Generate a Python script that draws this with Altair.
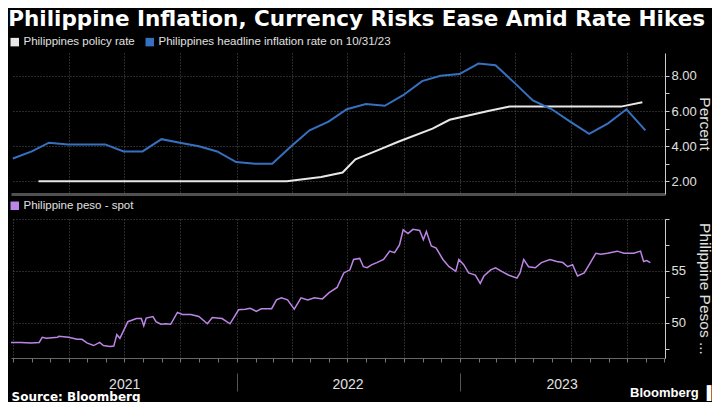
import altair as alt
import pandas as pd

TITLE = "Philippine Inflation, Currency Risks Ease Amid Rate Hikes"
LEG1 = "Philippines policy rate"
LEG2 = "Philippines headline inflation rate on 10/31/23"
LEG3 = "Philippine peso - spot"

# Headline inflation (month-end readings)
infl_dates = ["2020-12-31", "2021-01-31", "2021-02-28", "2021-03-31", "2021-04-30", "2021-05-31",
              "2021-06-30", "2021-07-31", "2021-08-31", "2021-09-30", "2021-10-31", "2021-11-30",
              "2021-12-31", "2022-01-31", "2022-02-28", "2022-03-31", "2022-04-30", "2022-05-31",
              "2022-06-30", "2022-07-31", "2022-08-31", "2022-09-30", "2022-10-31", "2022-11-30",
              "2022-12-31", "2023-01-31", "2023-02-28", "2023-03-31", "2023-04-30", "2023-05-31",
              "2023-06-30", "2023-07-31", "2023-08-31", "2023-09-30", "2023-10-31"]
infl_values = [3.3, 3.7, 4.2, 4.1, 4.1, 4.1, 3.7, 3.7, 4.4, 4.2, 4.0, 3.7,
               3.1, 3.0, 3.0, 4.0, 4.9, 5.4, 6.1, 6.4, 6.3, 6.9, 7.7, 8.0,
               8.1, 8.7, 8.6, 7.6, 6.6, 6.1, 5.4, 4.7, 5.3, 6.1, 4.9]

# Policy rate (decision dates)
rate_dates = ["2021-02-11", "2021-03-25", "2021-05-13", "2021-06-24", "2021-08-12", "2021-09-23",
              "2021-11-18", "2021-12-16", "2022-02-17", "2022-03-24", "2022-05-19", "2022-06-23",
              "2022-07-14", "2022-08-18", "2022-09-22", "2022-11-17", "2022-12-15", "2023-02-16",
              "2023-03-23", "2023-05-18", "2023-06-22", "2023-08-17", "2023-09-21", "2023-10-26"]
rate_values = [2.0, 2.0, 2.0, 2.0, 2.0, 2.0, 2.0, 2.0, 2.0, 2.0, 2.25, 2.5,
               3.25, 3.75, 4.25, 5.0, 5.5, 6.0, 6.25, 6.25, 6.25, 6.25, 6.25, 6.5]

# Peso spot (USD/PHP)
peso_dates = ["2020-12-28", "2021-01-13", "2021-01-30", "2021-02-12", "2021-02-17", "2021-02-24",
              "2021-03-14", "2021-03-16", "2021-04-01", "2021-04-15", "2021-04-23", "2021-05-01",
              "2021-05-12", "2021-05-22", "2021-05-28", "2021-06-08", "2021-06-14", "2021-06-19",
              "2021-06-24", "2021-07-07", "2021-07-21", "2021-07-29", "2021-08-02", "2021-08-06",
              "2021-08-17", "2021-08-22", "2021-08-30", "2021-09-07", "2021-09-15", "2021-09-26",
              "2021-10-04", "2021-10-18", "2021-10-31", "2021-11-14", "2021-11-22", "2021-12-08",
              "2021-12-21", "2022-01-04", "2022-01-15", "2022-01-23", "2022-02-02", "2022-02-10",
              "2022-02-27", "2022-03-07", "2022-03-15", "2022-03-25", "2022-04-05", "2022-04-16",
              "2022-04-27", "2022-05-08", "2022-05-21", "2022-06-01", "2022-06-14", "2022-06-25",
              "2022-07-05", "2022-07-11", "2022-07-21", "2022-07-27", "2022-08-02", "2022-08-10",
              "2022-08-18", "2022-08-29", "2022-09-08", "2022-09-16", "2022-09-24", "2022-09-30",
              "2022-10-08", "2022-10-16", "2022-10-27", "2022-11-02", "2022-11-07", "2022-11-15",
              "2022-11-23", "2022-12-04", "2022-12-14", "2022-12-25", "2022-12-30", "2023-01-07",
              "2023-01-15", "2023-01-26", "2023-02-03", "2023-02-09", "2023-02-20", "2023-02-28",
              "2023-03-10", "2023-03-21", "2023-04-04", "2023-04-09", "2023-04-15", "2023-04-23",
              "2023-05-04", "2023-05-14", "2023-05-28", "2023-06-08", "2023-06-18", "2023-06-26",
              "2023-07-04", "2023-07-12", "2023-07-23", "2023-08-03", "2023-08-11", "2023-08-19",
              "2023-08-30", "2023-09-15", "2023-09-26", "2023-10-12", "2023-10-23", "2023-10-28",
              "2023-11-02", "2023-11-08"]
peso_values = [48.1, 48.1, 48.05, 48.1, 48.6, 48.5,
               48.6, 48.7, 48.6, 48.4, 48.4, 48.05,
               47.8, 48.1, 47.8, 47.7, 47.75, 48.85,
               48.5, 50.1, 50.4, 50.4, 49.7, 50.45,
               50.6, 50.1, 49.85, 49.9, 49.85, 51.0,
               50.8, 50.8, 50.6, 49.9, 50.5, 50.4,
               49.9, 51.25, 51.3, 51.4, 51.1, 51.35,
               51.35, 52.2, 52.4, 52.2, 51.3, 52.4,
               52.2, 52.4, 52.3, 52.9, 53.4, 54.8,
               55.1, 56.1, 56.2, 55.4, 55.3, 55.6,
               55.8, 56.1, 56.9, 56.75, 57.5, 58.95,
               58.6, 59.0, 58.9, 58.0, 58.8, 57.4,
               57.2, 56.1, 55.4, 54.95, 56.1, 55.6,
               54.8, 54.6, 53.8, 54.5, 55.1, 55.3,
               54.95, 54.6, 54.3, 54.8, 56.1, 55.4,
               55.3, 55.8, 56.1, 55.9, 55.8, 55.4,
               55.6, 54.5, 54.8, 55.9, 56.7, 56.6,
               56.7, 56.9, 56.7, 56.7, 56.9, 55.9,
               56.0, 55.8]

WHITE = "#e8e8e8"
BLUE = "#3670c0"
PURPLE = "#bd85e6"
GRID = "#555555"
TXT = "#e0e0e0"
FONT = "Liberation Sans"
W = 654

x_dom = [alt.DateTime(year=2020, month=12, date=28), alt.DateTime(year=2023, month=12, date=2)]
quarters = [alt.DateTime(year=y, month=m, date=1)
            for y in (2021, 2022, 2023) for m in (1, 4, 7, 10) if not (y == 2021 and m == 1)]
months = [alt.DateTime(year=y, month=m, date=1) for y in (2021, 2022, 2023) for m in range(1, 13)]
year_marks = [alt.DateTime(year=2021, month=7, date=1), alt.DateTime(year=2022, month=1, date=1),
              alt.DateTime(year=2022, month=7, date=1), alt.DateTime(year=2023, month=1, date=1),
              alt.DateTime(year=2023, month=6, date=16)]

xscale = alt.Scale(domain=x_dom)

def legend(y):
    return alt.Legend(title=None, orient="none", legendX=-2, legendY=y, direction="horizontal",
                      symbolType="square", symbolSize=9, symbolStrokeWidth=5.5,
                      labelFont=FONT, labelFontSize=11.5, labelColor=TXT, labelLimit=500,
                      columnPadding=2, labelOffset=3)

# ---------- top panel ----------
top_df = pd.DataFrame({
    "date": pd.to_datetime(rate_dates + infl_dates),
    "value": rate_values + infl_values,
    "series": [LEG1] * len(rate_dates) + [LEG2] * len(infl_dates),
})

top = alt.Chart(top_df).mark_line(strokeWidth=2, clip=True).encode(
    x=alt.X("date:T", scale=xscale,
            axis=alt.Axis(values=quarters, labels=False, ticks=False, title=None, grid=True,
                          gridColor=GRID, gridDash=[1, 2], domainColor="#505050", domainWidth=3)),
    y=alt.Y("value:Q", scale=alt.Scale(domain=[1.28, 9.3], nice=False, zero=False),
            axis=alt.Axis(orient="right", values=[2, 3, 4, 5, 6, 7, 8],
                          labelExpr="datum.value % 2 == 0 ? format(datum.value, '.2f') : ''",
                          gridOpacity={"condition": {"test": "datum.value % 2 == 0", "value": 1}, "value": 0},
                          grid=True, gridColor=GRID, gridDash=[1, 2],
                          domainColor="#cccccc", tickColor="#cccccc", tickSize=4,
                          labelPadding=2, title="Percent", titleAngle=90, titlePadding=0)),
    color=alt.Color("series:N", scale=alt.Scale(domain=[LEG1, LEG2], range=[WHITE, BLUE]),
                    legend=legend(-17)),
).properties(width=W, height=141)

# ---------- bottom panel ----------
bot_df = pd.DataFrame({"date": pd.to_datetime(peso_dates), "value": peso_values,
                       "series": [LEG3] * len(peso_dates)})
yscale_b = alt.Scale(domain=[46.6, 60.0], nice=False, zero=False)

b1 = alt.Chart(bot_df).mark_line(strokeWidth=1.5, clip=True).encode(
    x=alt.X("date:T", scale=xscale,
            axis=alt.Axis(orient="bottom", values=months, labels=False, ticks=True, tickSize=4,
                          tickColor="#777", grid=True, gridColor=GRID, gridDash=[1, 2],
                          gridOpacity={"condition": {"test": "month(datum.value) % 3 == 0", "value": 1}, "value": 0},
                          domainColor="#666", title="Bloomberg \u2590", titleX=700, titleY=38,
                          titleAlign="right", titleBaseline="alphabetic", titleFontSize=13,
                          titleFontWeight=600, titleColor="#ffffff", titleFont=FONT)),
    y=alt.Y("value:Q", scale=yscale_b,
            axis=alt.Axis(orient="right", values=[47.5, 50, 52.5, 55, 57.5, 60],
                          labelExpr="(datum.value == 50 || datum.value == 55) ? format(datum.value, 'd') : ''",
                          gridOpacity={"condition": {"test": "datum.value % 5 == 0", "value": 1}, "value": 0},
                          grid=True, gridColor=GRID, gridDash=[1, 2],
                          domainColor="#cccccc", tickColor="#cccccc", tickSize=4,
                          labelPadding=2, title="Philippine Pesos ...", titleAngle=90, titlePadding=11)),
    color=alt.Color("series:N", scale=alt.Scale(domain=[LEG3], range=[PURPLE]), legend=legend(-19)),
)

b2 = alt.Chart(bot_df).mark_point(opacity=0).encode(
    x=alt.X("date:T", scale=xscale,
            axis=alt.Axis(orient="bottom", values=year_marks, offset=15, domain=False, grid=False,
                          tickSize=18, tickColor="#555",
                          tickOpacity={"condition": {"test": "month(datum.value) == 0", "value": 1}, "value": 0},
                          labelExpr="month(datum.value) == 0 ? '' : timeFormat(datum.value, '%Y')",
                          labelFontSize=14, labelColor=TXT, labelPadding=-14, labelOverlap=False,
                          labelFlush=False,
                          title="Source: Bloomberg", titleX=0, titleY=27, titleAlign="left",
                          titleAnchor="start", titleBaseline="alphabetic", titleFont="DejaVu Sans",
                          titleFontWeight="bold", titleFontSize=12, titleColor="#ffffff")),
)

bottom = alt.layer(b1, b2).resolve_axis(x="independent").properties(width=W, height=139)

chart = alt.vconcat(top, bottom, spacing=25, bounds="flush").resolve_scale(
    color="independent").resolve_legend(color="independent").properties(
    title=alt.TitleParams(TITLE, anchor="start", font="DejaVu Sans", fontSize=21.5,
                          fontWeight="bold", color="#ffffff", offset=6),
    background="#000000",
    padding={"left": 0, "top": 0, "right": 0, "bottom": 0},
).configure_view(strokeWidth=0).configure_axis(
    labelFont=FONT, labelFontSize=13, labelColor=TXT,
    titleFont=FONT, titleFontSize=15.5, titleFontWeight="normal", titleColor=TXT,
)

chart.save("out.html", embed_options={"renderer": "svg", "actions": False})
